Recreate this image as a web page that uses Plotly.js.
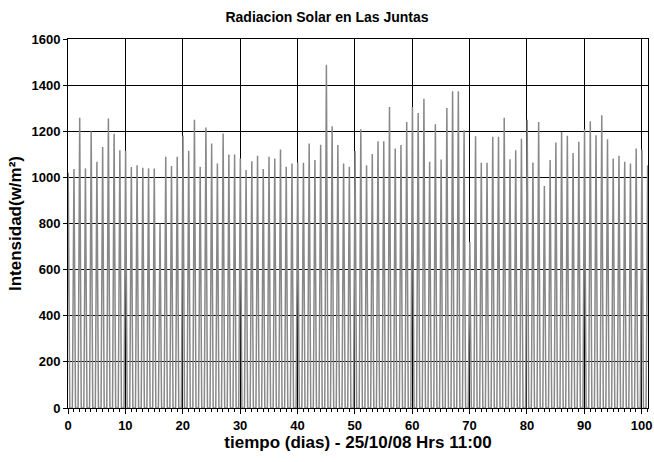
<!DOCTYPE html>
<html>
<head>
<meta charset="utf-8">
<script src="https://cdn.plot.ly/plotly-3.0.1.min.js"></script>
<style>
  html, body { margin: 0; padding: 0; background: #fff; }
  #chart { width: 654px; height: 462px; }
</style>
</head>
<body>
<div id="chart"></div>
<script>
// Day number (days since 25/10/08 11:00) of each daily radiation peak
const dayIndex = [0,1,2,3,4,5,6,7,8,9,10,11,12,13,14,15,16,17,18,19,20,
  21,22,23,24,25,26,27,28,29,30,31,32,33,34,35,36,37,38,39,40,
  41,42,43,44,45,46,47,48,49,50,51,52,53,54,55,56,57,58,59,60,
  61,62,63,64,65,66,67,68,69,70,71,72,73,74,75,76,77,78,79,80,
  81,82,83,84,85,86,87,88,89,90,91,92,93,94,95,96,97,98,99,100,101];

// Daily peak intensity (w/m²)
const peakIntensity = [1020,
  1036,1259,1039,1200,1068,1132,1255,1189,1118,1115,
  1045,1053,1042,1039,1039,800,1089,1049,1089,1180,
  1115,1250,1046,1216,1147,1060,1190,1099,1099,1082,
  1032,1070,1094,1036,1089,1082,1121,1046,1060,1065,
  1063,1147,1075,1142,1488,1222,1140,1060,1046,1114,
  1209,1053,1101,1157,1157,1305,1125,1140,1240,1305,
  1279,1341,1068,1230,1078,1301,1373,1373,1204,720,
  1178,1063,1063,1176,1176,1259,1079,1118,1168,1250,
  1065,1240,963,1075,1151,1197,1180,1106,1154,1209,
  1243,1183,1269,1165,1082,1094,1068,1060,1125,1121,1053];

// Night-time level (w/m²)
const nightIntensity = 0;

const xTickVals = [0,10,20,30,40,50,60,70,80,90,100];
const yTickVals = [0,200,400,600,800,1000,1200,1400,1600];

// daylight timing (fraction of a day relative to the day index)
const sunrise = -0.24, noon = 0.04, sunset = 0.31;

const xs = [], ys = [];
for (let i = 0; i < dayIndex.length; i++) {
  const d = dayIndex[i];
  xs.push(d + sunrise, d + noon, d + sunset);
  ys.push(nightIntensity, peakIntensity[i], nightIntensity);
}

const fontFam = 'Arial, "Liberation Sans", sans-serif';

const trace = {
  x: xs, y: ys,
  type: 'scatter', mode: 'lines',
  line: { color: '#888888', width: 1.5 },
  hoverinfo: 'skip'
};

const layout = {
  width: 654, height: 462,
  paper_bgcolor: '#fff', plot_bgcolor: '#fff',
  margin: { l: 68, r: 6, t: 39, b: 54 },
  showlegend: false,
  title: {
    text: 'Radiacion Solar en Las Juntas',
    font: { family: fontFam, size: 14, color: '#000', weight: 'bold' },
    x: 0.5, xanchor: 'center', y: 0.962, yanchor: 'middle'
  },
  xaxis: {
    range: [0, 101.1],
    tickvals: xTickVals,
    ticktext: xTickVals.map(String),
    ticks: 'outside', ticklen: 5, tickwidth: 1, tickcolor: '#000',
    minor: { dtick: 1, tick0: 0, ticks: 'outside', ticklen: 3, tickcolor: '#000', showgrid: false },
    showgrid: true, gridcolor: '#000', gridwidth: 1,
    zeroline: false,
    showline: true, linecolor: '#000', linewidth: 1, mirror: true,
    tickfont: { family: fontFam, size: 13, color: '#000', weight: 'bold' },
    title: { text: 'tiempo (dias) - 25/10/08 Hrs 11:00',
             font: { family: fontFam, size: 17, color: '#000', weight: 'bold' },
             standoff: 3 }
  },
  yaxis: {
    range: [0, 1600],
    tickvals: yTickVals,
    ticktext: yTickVals.map(String),
    ticks: 'outside', ticklen: 4, tickwidth: 1, tickcolor: '#000',
    showgrid: true, gridcolor: '#000', gridwidth: 1,
    zeroline: false,
    showline: true, linecolor: '#000', linewidth: 1, mirror: true,
    tickfont: { family: fontFam, size: 13, color: '#000', weight: 'bold' },
    title: { text: 'Intensidad(w/m²)',
             font: { family: fontFam, size: 17, color: '#000', weight: 'bold' },
             standoff: 5 }
  }
};

Plotly.newPlot('chart', [trace], layout, { staticPlot: true, displayModeBar: false });
</script>
</body>
</html>
